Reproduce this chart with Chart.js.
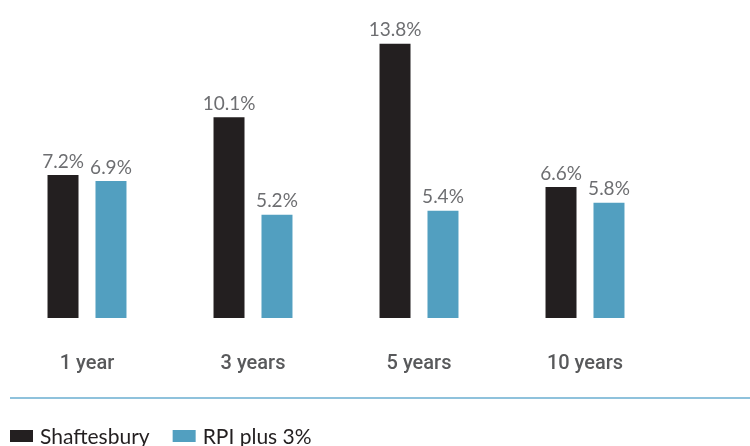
<!DOCTYPE html>
<html>
<head>
<meta charset="utf-8">
<script src="https://cdn.jsdelivr.net/npm/chart.js@4"></script>
<style>
  html, body { margin: 0; padding: 0; background: #fff; }
  #wrap { width: 750px; height: 446px; position: relative; }
</style>
</head>
<body>
<div id="wrap"><canvas id="chart" width="750" height="446"></canvas></div>
<script>
const categories = ['1 year', '3 years', '5 years', '10 years'];
const shaftesbury = [7.2, 10.1, 13.8, 6.6];
const rpiPlus3 = [6.9, 5.2, 5.4, 5.8];

// value labels above each bar
const valueLabels = {
    id: 'valueLabels',
    afterDatasetsDraw(chart) {
        const ctx = chart.ctx;
        ctx.save();
        ctx.font = '400 19px Lato';
        ctx.fillStyle = '#6d6e71';
        ctx.textAlign = 'center';
        ctx.textBaseline = 'bottom';
        chart.data.datasets.forEach((ds, i) => {
            chart.getDatasetMeta(i).data.forEach((bar, j) => {
                ctx.fillText(ds.data[j].toFixed(1) + '%', bar.x, bar.y - 4);
            });
        });
        ctx.restore();
    }
};

// blue rule plus a left-aligned legend underneath it
const footer = {
    id: 'footer',
    afterDraw(chart) {
        const ctx = chart.ctx;
        ctx.save();
        ctx.strokeStyle = '#6aaed0';
        ctx.lineWidth = 1.5;
        ctx.beginPath();
        ctx.moveTo(10, 398);
        ctx.lineTo(chart.width, 398);
        ctx.stroke();

        ctx.font = '400 21px Lato';
        ctx.textBaseline = 'middle';
        ctx.textAlign = 'left';
        let x = 10;
        chart.data.datasets.forEach(ds => {
            ctx.fillStyle = ds.backgroundColor;
            ctx.fillRect(x, 430, 23, 12);
            ctx.fillStyle = '#231f20';
            ctx.fillText(ds.label, x + 30, 437);
            x += 30 + ctx.measureText(ds.label).width + 23;
        });
        ctx.restore();
    }
};

new Chart(document.getElementById('chart').getContext('2d'), {
    type: 'bar',
    data: {
        labels: categories,
        datasets: [{
            label: 'Shaftesbury',
            data: shaftesbury,
            backgroundColor: '#231f20'
        }, {
            label: 'RPI plus 3%',
            data: rpiPlus3,
            backgroundColor: '#529fc0'
        }]
    },
    options: {
        responsive: false,
        animation: false,
        datasets: {
            bar: { categoryPercentage: 0.578, barPercentage: 0.646 }
        },
        layout: { padding: { top: 20, left: 4, right: 82, bottom: 44 } },
        scales: {
            x: {
                grid: { display: false },
                border: { display: false },
                ticks: {
                    color: '#58595b',
                    padding: 26,
                    font: { family: 'Roboto', size: 20, weight: '500' }
                }
            },
            y: {
                display: false,
                min: 0,
                max: 15
            }
        },
        plugins: {
            tooltip: { enabled: false },
            legend: { display: false }
        }
    },
    plugins: [valueLabels, footer]
});
</script>
</body>
</html>
